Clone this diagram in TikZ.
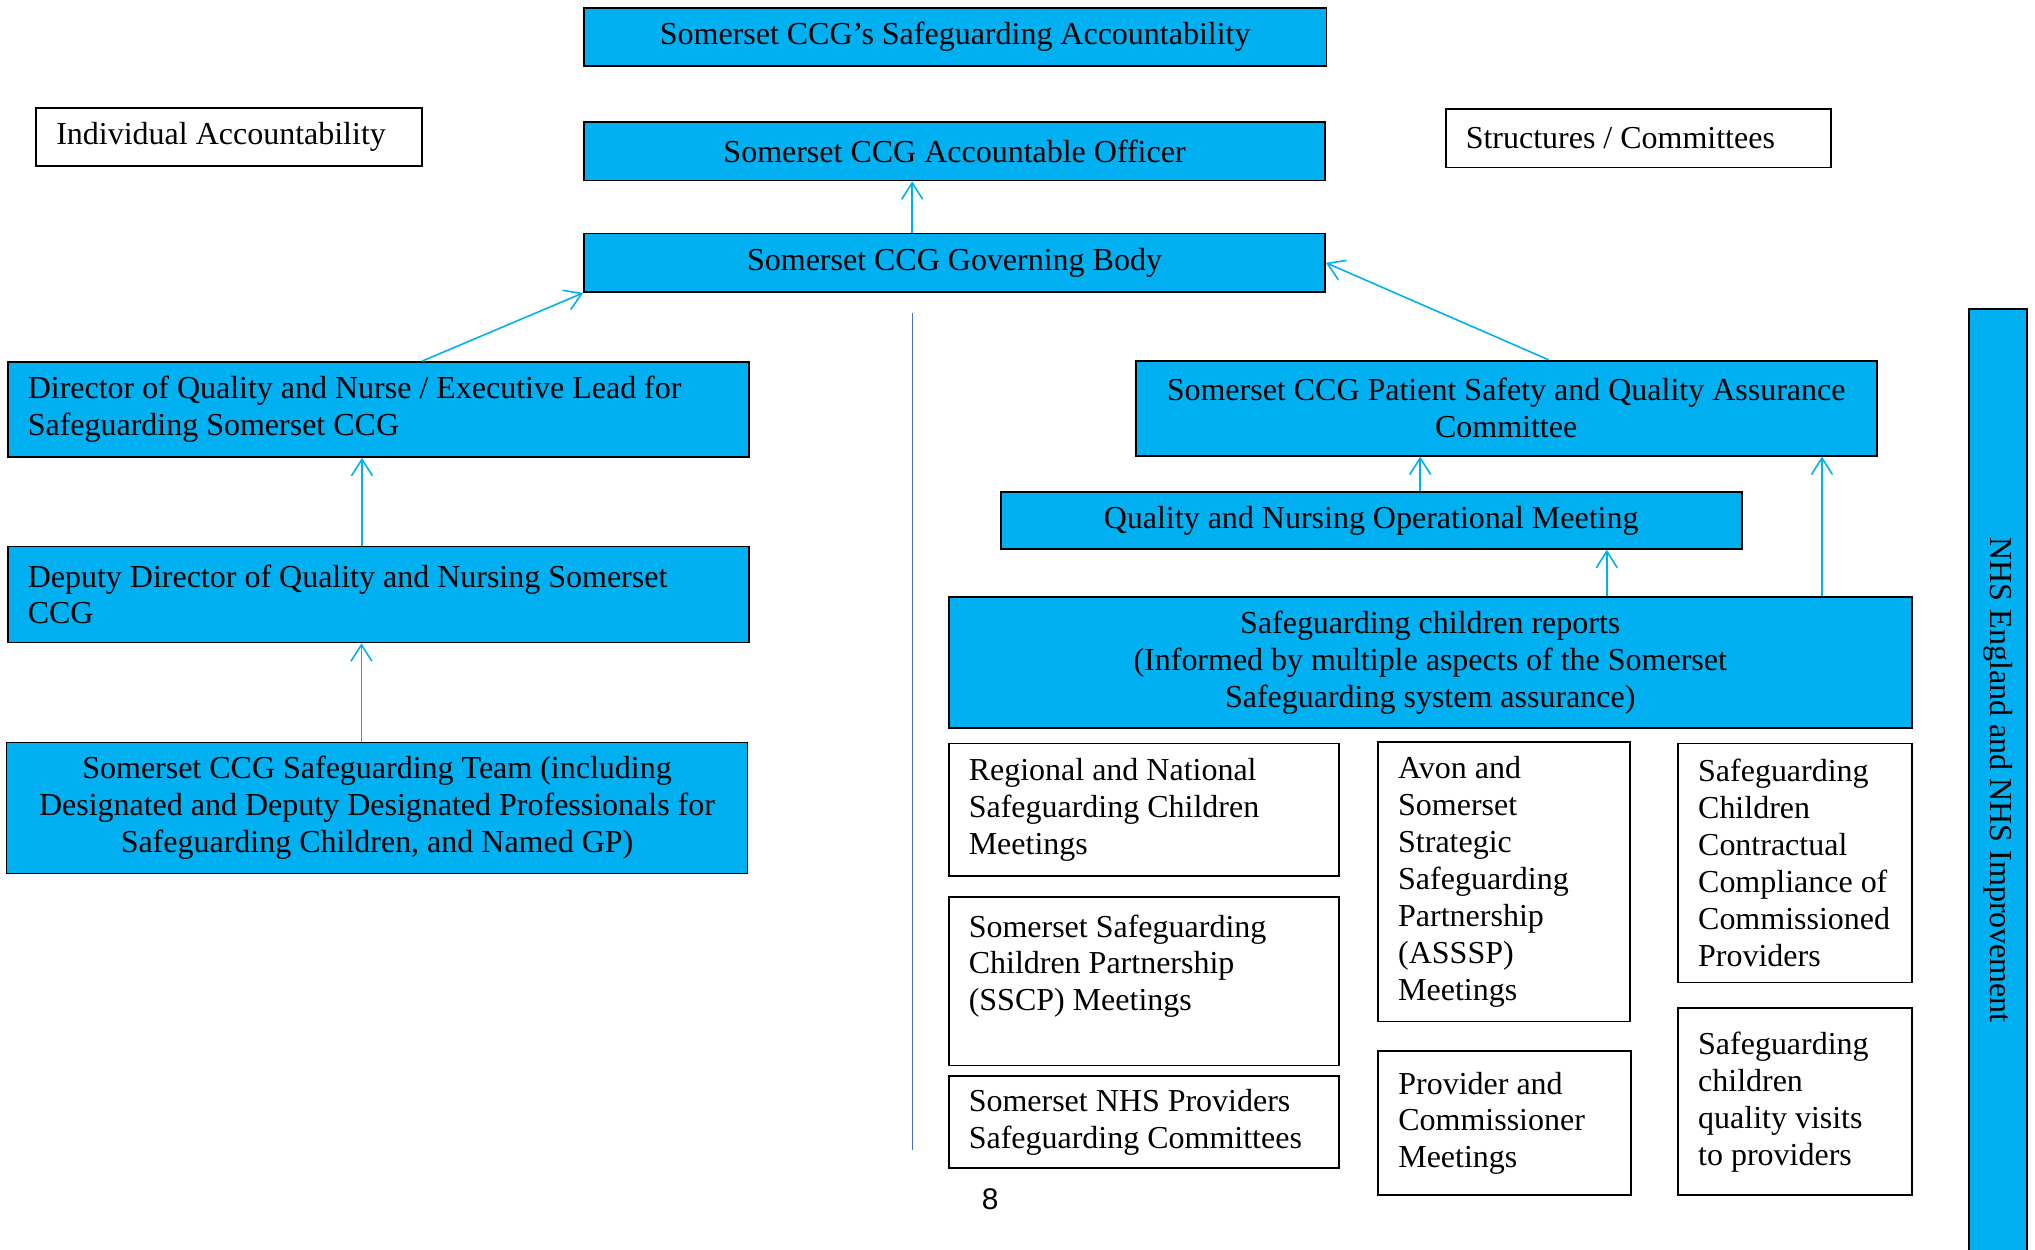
\documentclass[tikz,border=0pt]{standalone}
\usepackage{fontspec}
\setmainfont{Liberation Serif}
\newfontfamily\pagenumfont{Liberation Sans}
\usetikzlibrary{arrows.meta,calc}
\definecolor{sgblue}{RGB}{0,176,240}
\definecolor{spineblue}{RGB}{68,114,196}
\newcommand{\boxfont}{\fontsize{18.2}{21}\selectfont}

\begin{document}
\begin{tikzpicture}[x=0.025956cm,y=-0.025956cm]
		\tikzset{bluebox/.style={draw=black,line width=1pt,fill=sgblue,font=\boxfont,inner xsep=0.4cm,inner ysep=0pt}}
		\tikzset{whitebox/.style={bluebox,fill=white,align=flush left}}
		\tikzset{uparrow/.style={sgblue,line width=0.9pt,-{Straight Barb[length=0.33cm,width=0.42cm]}}}
		\useasboundingbox (0,0) rectangle (1568,963);
		\node[bluebox,minimum width=14.85cm,minimum height=1.17cm] (acc) at (736,28.5) {Somerset CCG’s Safeguarding Accountability}; %headings
		\node[whitebox,text width=6.91cm,minimum height=1.17cm] (indiv) at (176.5,105.5) {Individual Accountability};
		\node[whitebox,text width=6.91cm,minimum height=1.17cm] (struct) at (1262.5,106.5) {Structures / Committees};
		\node[bluebox,minimum width=14.82cm,minimum height=1.17cm] (officer) at (735.5,116.5) {Somerset CCG Accountable Officer}; %top of the chain
		\node[bluebox,minimum width=14.82cm,minimum height=1.17cm] (gov) at (735.5,202.5) {Somerset CCG Governing Body};
		\node[bluebox,text width=14.02cm,align=flush left,minimum height=1.9cm] (dir) at (291.5,315.5) {Director of Quality and Nurse / Executive Lead for\\Safeguarding Somerset CCG}; %individual side
		\node[bluebox,text width=14.02cm,align=flush left,minimum height=1.92cm] (dep) at (291.5,458) {Deputy Director of Quality and Nursing Somerset\\CCG};
		\node[bluebox,align=center,minimum width=14.82cm,minimum height=2.62cm] (team) at (290.5,622.5) {Somerset CCG Safeguarding Team (including\\Designated and Deputy Designated Professionals for\\Safeguarding Children, and Named GP)};
		\node[bluebox,align=center,minimum width=14.82cm,minimum height=1.9cm] (psqa) at (1160.5,314.5) {Somerset CCG Patient Safety and Quality Assurance\\Committee}; %committee side
		\node[bluebox,minimum width=14.82cm,minimum height=1.14cm] (qnom) at (1056.5,401) {Quality and Nursing Operational Meeting};
		\node[bluebox,align=center,minimum width=19.26cm,minimum height=2.62cm] (reports) at (1102,510.5) {Safeguarding children reports\\(Informed by multiple aspects of the Somerset\\Safeguarding system assurance)};
		\node[whitebox,text width=7.01cm,minimum height=2.65cm] (regional) at (881.5,624) {Regional and National\\Safeguarding Children\\Meetings}; %sources of assurance
		\node[whitebox,text width=7.01cm,minimum height=3.37cm] (sscp) at (881.5,756) {Somerset Safeguarding\\Children Partnership\\(SSCP) Meetings\\\mbox{}};
		\node[whitebox,text width=7.01cm,minimum height=1.84cm] (nhsprov) at (881.5,864.5) {Somerset NHS Providers\\Safeguarding Committees};
		\node[whitebox,text width=4.24cm,minimum height=5.58cm] (avon) at (1159,679.5) {Avon and\\Somerset\\Strategic\\Safeguarding\\Partnership\\(ASSSP)\\Meetings};
		\node[whitebox,text width=4.26cm,minimum height=2.88cm] (provcomm) at (1159.5,865.5) {Provider and\\Commissioner\\Meetings};
		\node[whitebox,text width=3.87cm,minimum height=4.78cm] (contract) at (1383,665) {Safeguarding\\Children\\Contractual\\Compliance of\\Commissioned\\Providers};
		\node[whitebox,text width=3.87cm,minimum height=3.74cm] (visits) at (1383,849) {Safeguarding\\children\\quality visits\\to providers};
		\node[bluebox,rotate=-90,minimum width=18.86cm,minimum height=1.17cm] (nhse) at (1539.5,601.25) {NHS England and NHS Improvement};
		\node[font=\pagenumfont\fontsize{17}{20}\selectfont,inner sep=0pt] (pagenum) at (763,924) {8};
		\draw[spineblue,line width=0.7pt] (703,241) -- (703,886); %divider
		\draw[uparrow] ($(gov.north west)!0.443!(gov.north east)$) coordinate (g1) -- (g1 |- officer.south); %reporting lines
		\draw[uparrow] ($(dir.north west)!0.559!(dir.north east)$) -- (gov.south west);
		\draw[uparrow] ($(dep.north west)!0.478!(dep.north east)$) coordinate (d1) -- (d1 |- dir.south);
		\draw[uparrow] ($(team.north west)!0.479!(team.north east)$) coordinate (t1) -- (t1 |- dep.south);
		\draw[uparrow] ($(psqa.north west)!0.557!(psqa.north east)$) -- (gov.east);
		\draw[uparrow] ($(qnom.north west)!0.566!(qnom.north east)$) coordinate (q1) -- (q1 |- psqa.south);
		\draw[uparrow] ($(reports.north west)!0.683!(reports.north east)$) coordinate (r1) -- (r1 |- qnom.south);
		\draw[uparrow] ($(reports.north west)!0.906!(reports.north east)$) coordinate (r2) -- (r2 |- psqa.south);
	\end{tikzpicture}
\end{document}
